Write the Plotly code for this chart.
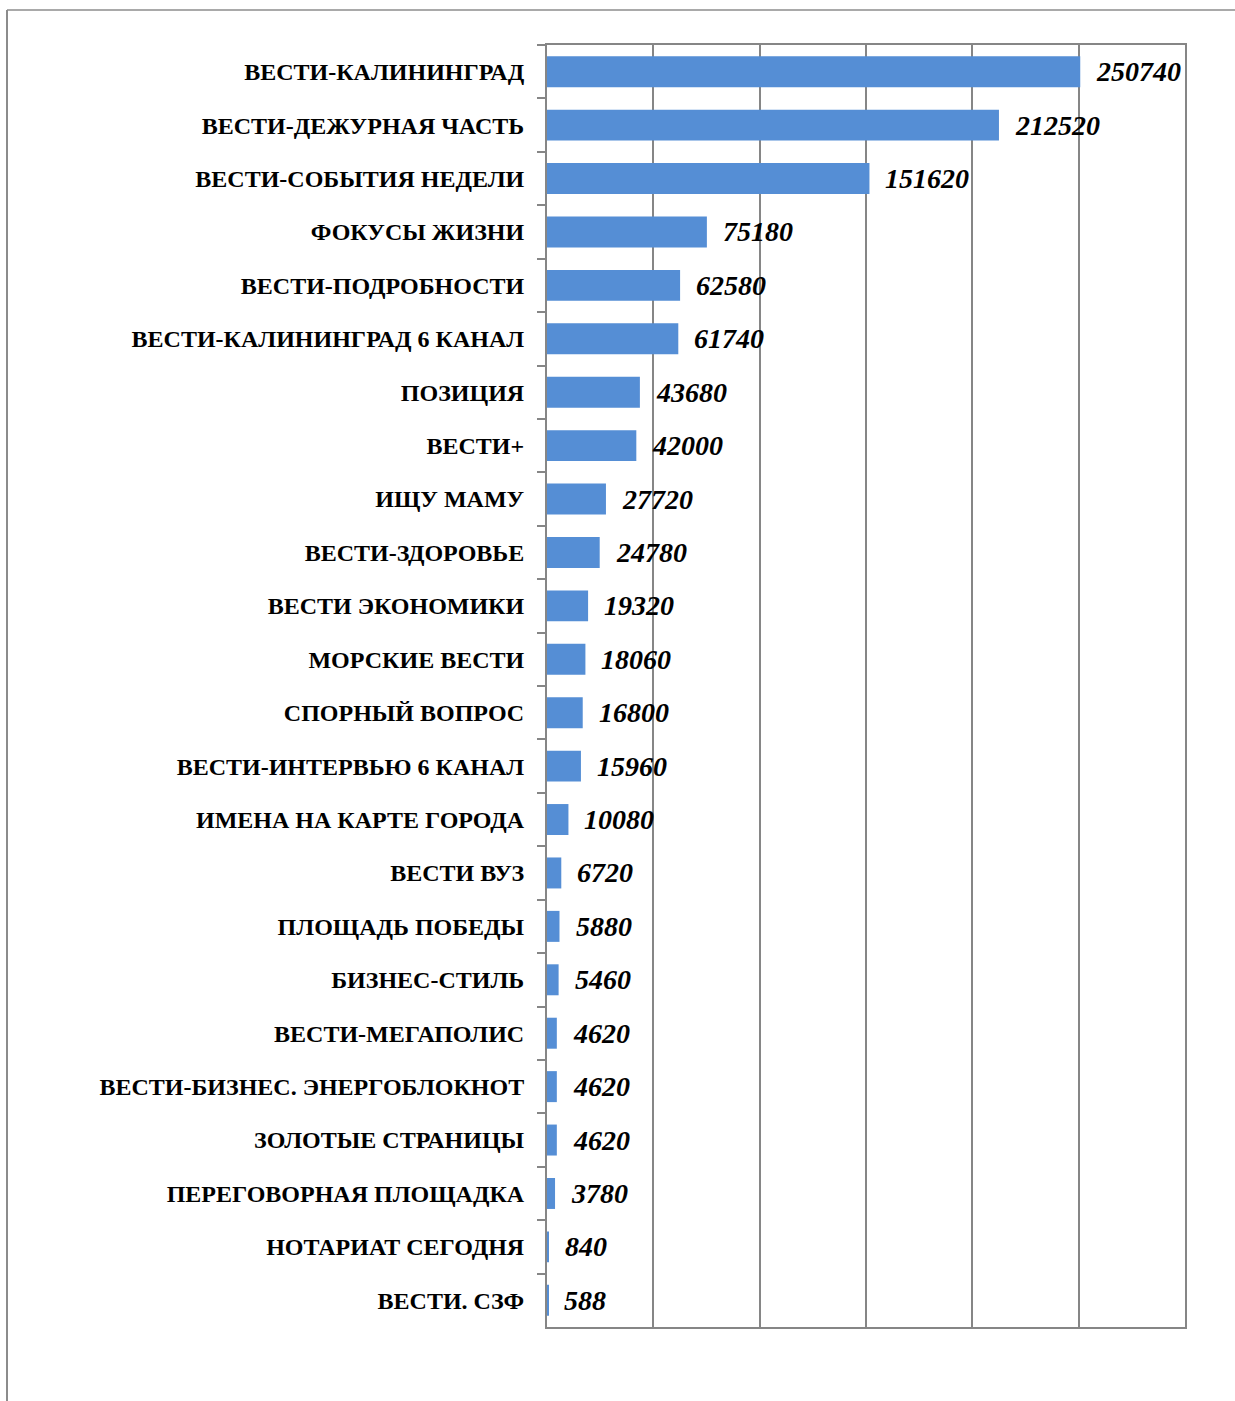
import plotly.graph_objects as go

categories = [
    "ВЕСТИ-КАЛИНИНГРАД", "ВЕСТИ-ДЕЖУРНАЯ ЧАСТЬ", "ВЕСТИ-СОБЫТИЯ НЕДЕЛИ", "ФОКУСЫ ЖИЗНИ",
    "ВЕСТИ-ПОДРОБНОСТИ", "ВЕСТИ-КАЛИНИНГРАД 6 КАНАЛ", "ПОЗИЦИЯ", "ВЕСТИ+", "ИЩУ МАМУ",
    "ВЕСТИ-ЗДОРОВЬЕ", "ВЕСТИ ЭКОНОМИКИ", "МОРСКИЕ ВЕСТИ", "СПОРНЫЙ ВОПРОС",
    "ВЕСТИ-ИНТЕРВЬЮ 6 КАНАЛ", "ИМЕНА НА КАРТЕ ГОРОДА", "ВЕСТИ ВУЗ", "ПЛОЩАДЬ ПОБЕДЫ",
    "БИЗНЕС-СТИЛЬ", "ВЕСТИ-МЕГАПОЛИС", "ВЕСТИ-БИЗНЕС. ЭНЕРГОБЛОКНОТ", "ЗОЛОТЫЕ СТРАНИЦЫ",
    "ПЕРЕГОВОРНАЯ ПЛОЩАДКА", "НОТАРИАТ СЕГОДНЯ", "ВЕСТИ. СЗФ",
]
values = [
    250740, 212520, 151620, 75180, 62580, 61740, 43680, 42000, 27720, 24780, 19320, 18060,
    16800, 15960, 10080, 6720, 5880, 5460, 4620, 4620, 4620, 3780, 840, 588,
]

W, H = 1235, 1401
L, R, T, B = 547, 50, 45, 74
pw, ph = W - L - R, H - T - B

fig = go.Figure(go.Bar(
    x=values, y=categories, orientation="h",
    marker=dict(color="#558ED5", line=dict(width=0)),
    width=0.58,
))

for c, v in zip(categories, values):
    fig.add_annotation(
        x=v, y=c, text="<b><i>" + str(v) + "</i></b>", showarrow=False,
        xanchor="left", xshift=14,
        font=dict(family="Liberation Serif", size=28, color="black"),
    )

grid = "#868686"
fig.update_layout(
    width=W, height=H,
    margin=dict(l=L, r=R, t=T, b=B),
    paper_bgcolor="white", plot_bgcolor="white",
    showlegend=False,
    font=dict(family="Liberation Serif", color="black"),
    xaxis=dict(
        range=[0, 300000], dtick=50000, showticklabels=False, ticks="",
        showgrid=True, gridcolor=grid, gridwidth=1.5,
        showline=True, linecolor=grid, linewidth=2, mirror=True, zeroline=False,
    ),
    yaxis=dict(
        autorange="reversed", tickson="boundaries", ticks="outside", ticklen=8,
        tickcolor=grid, tickwidth=2, ticklabelstandoff=16,
        showline=True, linecolor=grid, linewidth=2, mirror=True, showgrid=False,
        tickfont=dict(family="Liberation Serif", size=24, color="black", weight="bold"),
    ),
    shapes=[
        dict(type="line", xref="paper", yref="paper",
             x0=(7 - L) / pw, x1=(W - L) / pw, y0=(H - B - 10) / ph, y1=(H - B - 10) / ph,
             line=dict(color="#8c8c8c", width=1.5)),
        dict(type="line", xref="paper", yref="paper",
             x0=(7 - L) / pw, x1=(7 - L) / pw, y0=(H - B - 10) / ph, y1=(H - B - H - 5) / ph,
             line=dict(color="#8c8c8c", width=2)),
    ],
)

fig.write_html("out.html")
